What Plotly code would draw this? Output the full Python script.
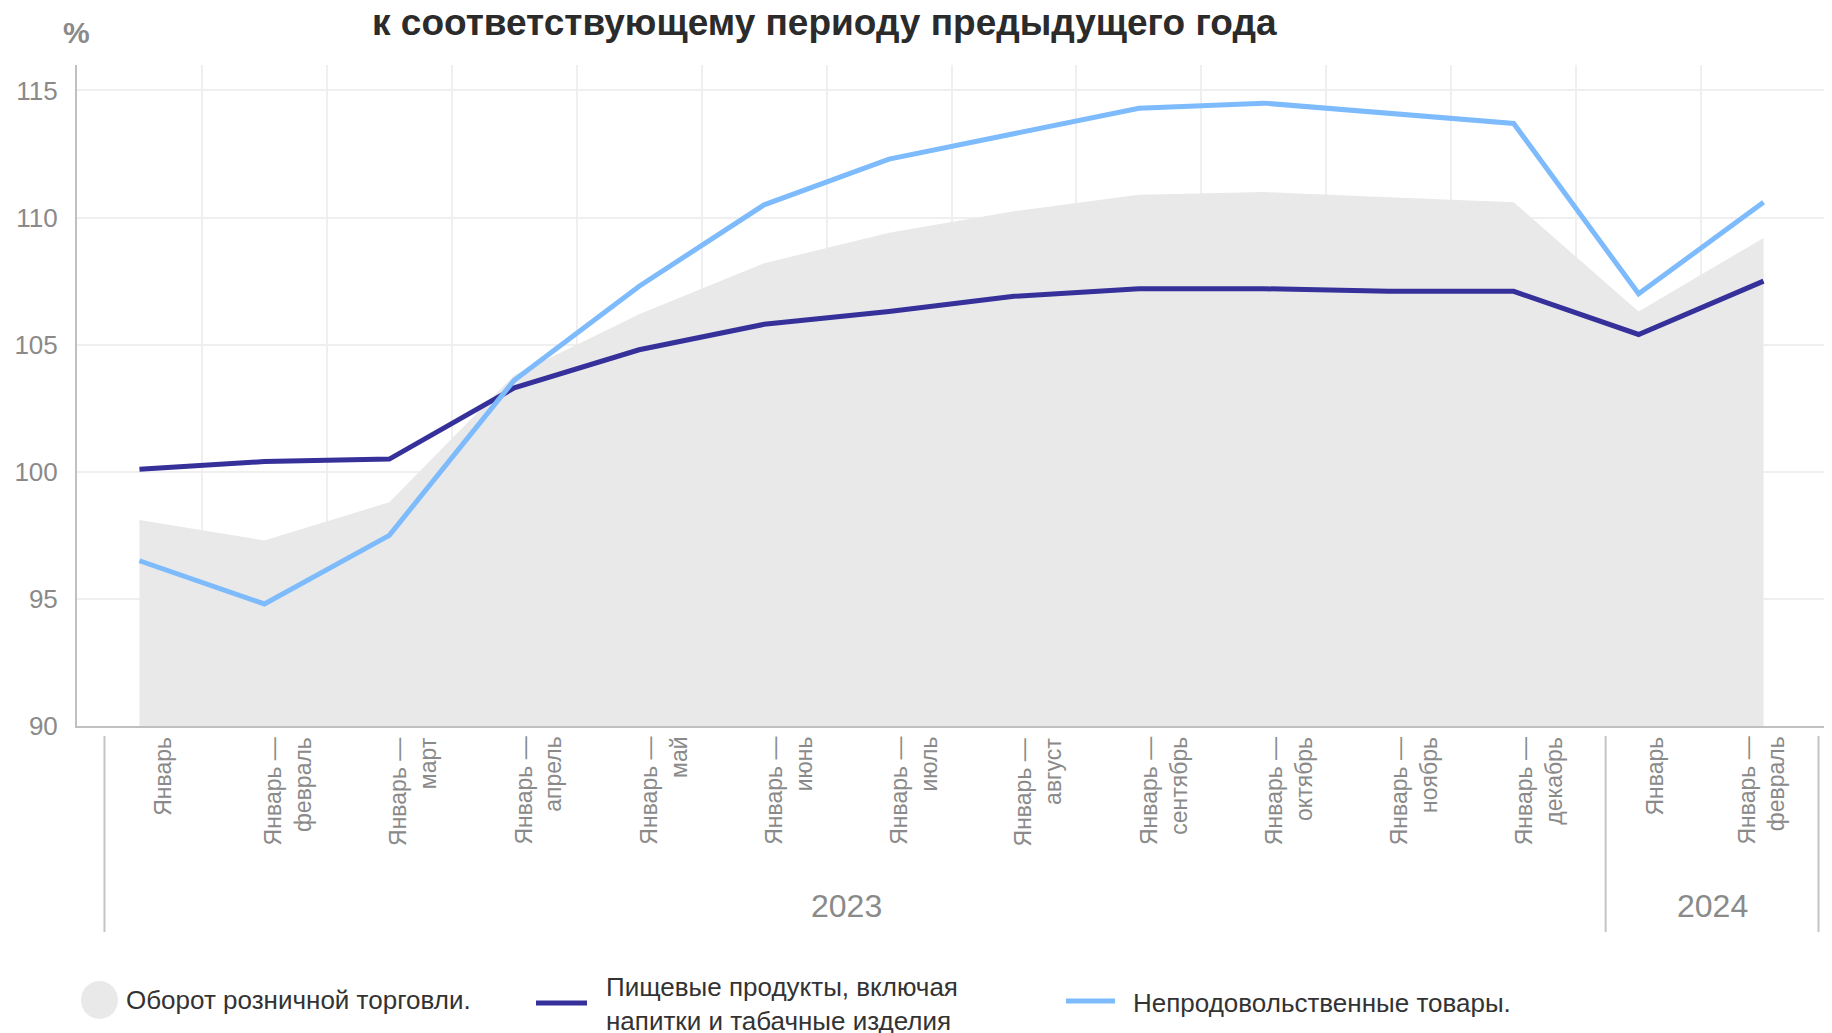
import plotly.graph_objects as go

# --- data
periods = ["Январь", "Январь —<br>февраль", "Январь —<br>март", "Январь —<br>апрель",
           "Январь —<br>май", "Январь —<br>июнь", "Январь —<br>июль", "Январь —<br>август",
           "Январь —<br>сентябрь", "Январь —<br>октябрь", "Январь —<br>ноябрь",
           "Январь —<br>декабрь", "Январь", "Январь —<br>февраль"]
years = ["2023"] * 12 + ["2024"] * 2

retail = [98.1, 97.3, 98.8, 103.8, 106.2, 108.2, 109.4, 110.25, 110.9, 111.0, 110.8, 110.6, 106.3, 109.2]
food = [100.1, 100.4, 100.5, 103.3, 104.8, 105.8, 106.3, 106.9, 107.2, 107.2, 107.1, 107.1, 105.4, 107.5]
nonfood = [96.5, 94.8, 97.5, 103.6, 107.3, 110.5, 112.3, 113.3, 114.3, 114.5, 114.1, 113.7, 107.0, 110.6]

series_names = ["Оборот розничной торговли.",
                "Пищевые продукты, включая<br>напитки и табачные изделия",
                "Непродовольственные товары."]

title_text = "к соответствующему периоду предыдущего года"

# --- geometry (page has an 8px body margin, positions below are screen pixels)
W, H = 1832, 1033
OFF = 8
L, T = 77 - OFF, 65 - OFF
R = W - (1826 - OFF)
B = H - (726 - OFF)
FONT = "Liberation Sans, Arial, sans-serif"
GREY = "#8a8a8a"
DARK = "#35309a"
LIGHT = "#7dbbfc"
AREA = "#e9e9e9"


def py(ypx):
    return (H - B - (ypx - OFF)) / (H - T - B)


def pxx(xpx):
    return ((xpx - OFF) - L) / (W - L - R)


x = list(range(len(periods)))

fig = go.Figure()
fig.add_trace(go.Scatter(x=x, y=retail, mode="lines", fill="tozeroy", fillcolor=AREA,
                         line=dict(width=0, color=AREA), name=series_names[0], showlegend=False))
fig.add_trace(go.Scatter(x=x, y=food, mode="lines", line=dict(width=5, color=DARK),
                         name=series_names[1], showlegend=False))
fig.add_trace(go.Scatter(x=x, y=nonfood, mode="lines", line=dict(width=5, color=LIGHT),
                         name=series_names[2], showlegend=False))

# group edges (in category units) for the grouped labels below the axis
group_edges = [-0.28, 11.736, 13.44]
groups = ["2023", "2024"]
group_label_shift = [-0.065, 0.0]

annotations = []
shapes = []
for gi, g in enumerate(groups):
    idx = [i for i, y in enumerate(years) if y == g]
    a, b = group_edges[gi], group_edges[gi + 1]
    step = (b - a) / len(idx)
    for k, i in enumerate(idx):
        annotations.append(dict(
            x=a + (k + 0.5) * step - 0.03, xref="x", y=py(735), yref="paper",
            text=periods[i], textangle=-90, align="right", xanchor="center", yanchor="top",
            showarrow=False, font=dict(size=23, color=GREY, family=FONT)))
    annotations.append(dict(
        x=(a + b) / 2 + group_label_shift[gi], xref="x", y=py(906), yref="paper", text=g,
        showarrow=False, xanchor="center", yanchor="middle",
        font=dict(size=32, color=GREY, family=FONT)))
for e in group_edges:
    shapes.append(dict(type="line", xref="x", yref="paper", x0=e, x1=e, y0=py(736), y1=py(932),
                       line=dict(color="#c4c4c4", width=2)))

# title and unit
annotations.append(dict(x=pxx(824), xref="paper", y=py(22), yref="paper", text=title_text,
                        showarrow=False, xanchor="center", yanchor="middle",
                        font=dict(size=37, color="#2b2b2b", family=FONT, weight="bold")))
annotations.append(dict(x=pxx(76), xref="paper", y=py(33), yref="paper", text="%",
                        showarrow=False, xanchor="center", yanchor="middle",
                        font=dict(size=30, color=GREY, family=FONT, weight="bold")))

# legend drawn by hand to match the original layout
shapes.append(dict(type="circle", xref="paper", yref="paper", x0=pxx(81), x1=pxx(118),
                   y0=py(1019), y1=py(981), fillcolor=AREA, line=dict(width=0)))
shapes.append(dict(type="line", xref="paper", yref="paper", x0=pxx(536), x1=pxx(587),
                   y0=py(1003), y1=py(1003), line=dict(color=DARK, width=5)))
shapes.append(dict(type="line", xref="paper", yref="paper", x0=pxx(1066), x1=pxx(1115),
                   y0=py(1001), y1=py(1001), line=dict(color=LIGHT, width=5)))
for xpos, ypos, name in [(124, 1000, series_names[0]), (604, 1004, series_names[1]),
                         (1131, 1003, series_names[2])]:
    annotations.append(dict(x=pxx(xpos), xref="paper", y=py(ypos), yref="paper", text=name,
                            showarrow=False, xanchor="left", yanchor="middle", align="left",
                            font=dict(size=26, color="#333333", family=FONT)))

fig.update_layout(
    width=W, height=H,
    margin=dict(l=L, r=R, t=T, b=B),
    paper_bgcolor="white", plot_bgcolor="white",
    font=dict(family=FONT, color=GREY),
    showlegend=False,
    annotations=annotations,
    shapes=shapes,
)
fig.update_xaxes(range=[-0.5, 13.5], tickvals=[i - 0.5 for i in range(15)], showticklabels=False,
                 showgrid=True, gridcolor="#efefef", gridwidth=2, ticks="", zeroline=False,
                 showline=True, linecolor="#c0c0c0", linewidth=2, automargin=False)
fig.update_yaxes(range=[90, 116], tickvals=[90, 95, 100, 105, 110, 115], showgrid=True,
                 gridcolor="#efefef", gridwidth=2, zeroline=False, ticks="",
                 showline=True, linecolor="#c0c0c0", linewidth=2, automargin=False,
                 ticklabelstandoff=12, tickfont=dict(size=26, color=GREY, family=FONT))

fig.write_html("out.html")
